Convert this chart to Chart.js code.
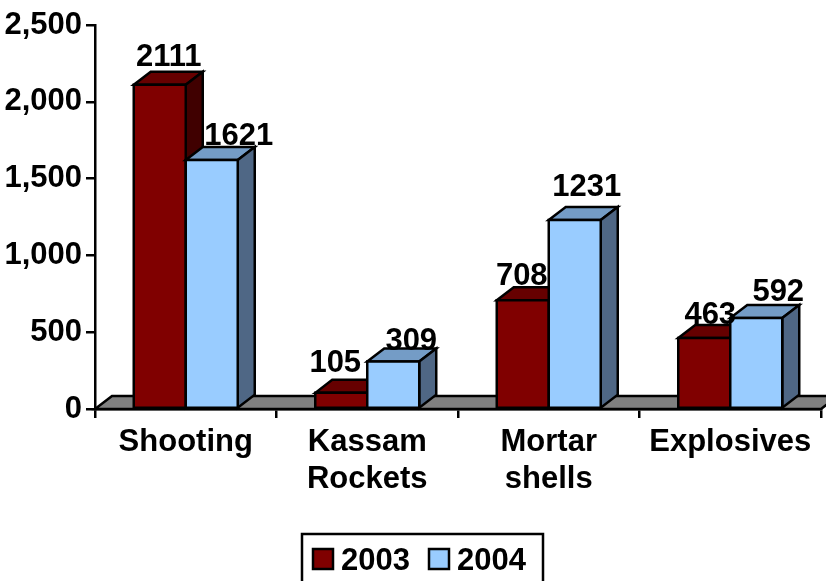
<!DOCTYPE html>
<html>
<head>
<meta charset="utf-8">
<style>
  html, body { margin: 0; padding: 0; background: #fff; overflow: hidden; }
  #wrap { width: 826px; height: 581px; }
</style>
<script src="https://cdn.jsdelivr.net/npm/chart.js@4"></script>
</head>
<body>
<div id="wrap"><canvas id="grafico" width="826" height="581"></canvas></div>
<script>
const categories = [["Shooting"], ["Kassam", "Rockets"], ["Mortar", "shells"], ["Explosives"]];
const series2003 = [2111, 105, 708, 463];
const series2004 = [1621, 309, 1231, 592];
const yTicks = [0, 500, 1000, 1500, 2000, 2500];

const FONT = 'bold 31px "Liberation Sans", Arial, sans-serif';
const DX = 17, DY = 13;

// how far each value label sits from the middle of its bar, as in the picture
const shift2003 = [9, -6, -1, 6];
const shift2004 = [27, 18, 12, 22];
const lift2003 = [19, 21, 15, 14];
const lift2004 = [15, 12, 24, 17];

const colors = [
  { front: "#800000", top: "#660000", side: "#400000" },
  { front: "#99ccff", top: "#749cc6", side: "#4f6785" }
];

function poly(ctx, pts, fill) {
  ctx.beginPath();
  pts.forEach((p, i) => i ? ctx.lineTo(p[0], p[1]) : ctx.moveTo(p[0], p[1]));
  ctx.closePath();
  ctx.fillStyle = fill;
  ctx.fill();
  ctx.stroke();
}

const bars3d = {
  id: "bars3d",
  // gray floor under the bars
  beforeDatasetsDraw(chart) {
    const { ctx, chartArea: a } = chart;
    ctx.save();
    ctx.strokeStyle = "#000";
    ctx.lineWidth = 2.5;
    poly(ctx, [[a.left, a.bottom], [a.left + DX, a.bottom - DY], [a.right + DX, a.bottom - DY], [a.right, a.bottom]], "#808080");
    ctx.restore();
  },
  // skip the default pass, it paints the first dataset last
  beforeDatasetDraw() {
    return false;
  },
  afterDatasetsDraw(chart) {
    const { ctx } = chart;
    ctx.save();
    ctx.strokeStyle = "#000";
    ctx.lineWidth = 2.5;
    ctx.lineJoin = "miter";
    [0, 1].forEach((d) => {
      chart.getDatasetMeta(d).data.forEach((bar) => {
        const l = bar.x - bar.width / 2, r = bar.x + bar.width / 2;
        const t = bar.y, b = bar.base;
        poly(ctx, [[l, t], [l + DX, t - DY], [r + DX, t - DY], [r, t]], colors[d].top);
        poly(ctx, [[r, t], [r + DX, t - DY], [r + DX, b - DY], [r, b]], colors[d].side);
        poly(ctx, [[l, t], [r, t], [r, b], [l, b]], colors[d].front);
      });
    });
    ctx.restore();
  },
  afterDraw(chart) {
    const { ctx } = chart;
    ctx.save();
    // value labels
    ctx.font = FONT;
    ctx.fillStyle = "#000";
    ctx.textAlign = "center";
    ctx.textBaseline = "alphabetic";
    [[shift2003, lift2003], [shift2004, lift2004]].forEach(([shift, lift], d) => {
      chart.getDatasetMeta(d).data.forEach((bar, i) => {
        ctx.fillText(chart.data.datasets[d].data[i], bar.x + shift[i], bar.y - lift[i]);
      });
    });
    // legend box, runs off the bottom of the picture
    ctx.lineWidth = 2.5;
    ctx.strokeStyle = "#000";
    ctx.strokeRect(302, 534, 241, 60);
    ctx.textAlign = "left";
    const swatchX = [312, 428];
    chart.data.datasets.forEach((ds, d) => {
      ctx.fillStyle = ds.backgroundColor;
      ctx.fillRect(swatchX[d] + 1, 549, 20, 20);
      ctx.strokeRect(swatchX[d] + 1, 549, 20, 20);
      ctx.fillStyle = "#000";
      ctx.fillText(ds.label, swatchX[d] + 29, 570);
    });
    ctx.restore();
  }
};

new Chart(document.getElementById("grafico"), {
  type: "bar",
  data: {
    labels: categories,
    datasets: [
      { label: "2003", data: series2003, backgroundColor: colors[0].front, borderColor: "#000" },
      { label: "2004", data: series2004, backgroundColor: colors[1].front, borderColor: "#000" }
    ]
  },
  options: {
    responsive: false,
    animation: false,
    layout: { padding: { top: 25, right: 5, left: 0, bottom: 0 } },
    datasets: { bar: { categoryPercentage: 0.573, barPercentage: 1 } },
    plugins: { legend: { display: false }, tooltip: { enabled: false } },
    scales: {
      x: {
        afterFit: (s) => { s.height = 172; },
        border: { color: "#000", width: 2.5 },
        grid: { drawOnChartArea: false, color: "#000", lineWidth: 2.5, tickLength: 9 },
        ticks: {
          color: "#000",
          font: { family: '"Liberation Sans", Arial, sans-serif', weight: "bold", size: 31 },
          maxRotation: 0,
          autoSkip: false,
          padding: 6
        }
      },
      y: {
        min: 0,
        max: 2500,
        afterFit: (s) => { s.width = 95; },
        afterBuildTicks: (s) => { s.ticks = yTicks.map((v) => ({ value: v })); },
        border: { color: "#000", width: 2.5 },
        grid: { drawOnChartArea: false, color: "#000", lineWidth: 2.5, tickLength: 9 },
        ticks: {
          color: "#000",
          font: { family: '"Liberation Sans", Arial, sans-serif', weight: "bold", size: 31 },
          padding: 4
        }
      }
    }
  },
  plugins: [bars3d]
});
</script>
</body>
</html>
